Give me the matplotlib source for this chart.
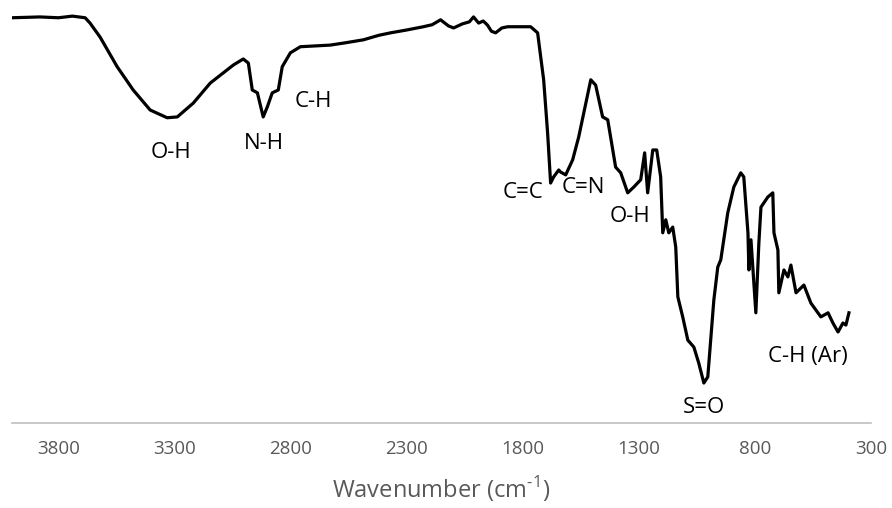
import numpy as np
from matplotlib import pyplot as plt

plt.rcParams['mathtext.fontset'] = 'custom'
plt.rcParams['mathtext.rm'] = 'Open Sans'

# IR spectrum (wavenumber in cm-1, transmittance in a.u.)
wavenumber = [4000, 3880, 3800, 3740, 3685, 3664, 3621, 3547, 3478, 3405,
              3332, 3288, 3219, 3146, 3047, 3004, 2982, 2965, 2943, 2918,
              2900, 2879, 2853, 2836, 2801, 2758, 2629, 2560, 2486, 2420,
              2370, 2300, 2228, 2190, 2154, 2120, 2098, 2060, 2030, 2012,
              1990, 1970, 1952, 1935, 1917, 1890, 1865, 1800, 1766, 1736,
              1710, 1693, 1680, 1667, 1645, 1637, 1615, 1585, 1559, 1507,
              1486, 1456, 1434, 1400, 1378, 1348, 1322, 1292, 1275, 1262,
              1240, 1223, 1206, 1197, 1184, 1171, 1154, 1141, 1132, 1111,
              1089, 1063, 1042, 1020, 1003, 977, 960, 947, 917, 891,
              861, 848, 830, 826, 817, 796, 783, 774, 744, 723,
              718, 701, 697, 675, 658, 645, 623, 589, 559, 516,
              485, 464, 442, 421, 408, 395]
transmittance = [99.3, 99.5, 99.3, 99.7, 99.3, 98.0, 94.6, 87.3, 81.6, 76.7,
                 74.8, 75.0, 78.4, 83.3, 87.7, 89.2, 88.2, 81.6, 80.9, 75.0,
                 77.5, 80.9, 81.6, 87.3, 90.7, 92.2, 92.6, 93.2, 93.9, 95.0,
                 95.6, 96.3, 97.1, 97.6, 98.8, 97.3, 96.8, 97.8, 98.3, 99.5,
                 98.0, 98.5, 97.5, 96.0, 95.6, 96.8, 97.1, 97.1, 97.1, 95.6,
                 84.1, 71.1, 58.8, 60.3, 62.0, 61.5, 60.8, 64.5, 70.1, 84.1,
                 82.8, 75.0, 74.3, 62.7, 61.3, 56.4, 57.8, 59.6, 66.2, 56.4,
                 66.9, 66.9, 60.3, 46.6, 49.8, 46.6, 48.0, 43.1, 30.9, 26.0,
                 20.3, 18.6, 14.7, 9.8, 11.3, 30.1, 38.2, 40.0, 51.5, 57.8,
                 61.3, 60.3, 46.6, 37.5, 44.9, 27.0, 44.1, 52.9, 55.4, 56.4,
                 46.6, 42.4, 31.9, 37.5, 35.8, 38.7, 31.9, 33.8, 29.4, 26.0,
                 27.0, 24.5, 22.3, 24.5, 24.0, 27.0]

# Peak assignments: label, wavenumber, transmittance of the text centre
peak_labels = ['O-H', 'N-H', 'C-H', 'C=C', 'C=N', 'O-H', 'S=O', 'C-H (Ar)']
peak_x = [3314, 2913, 2702, 1801, 1538, 1339, 1020, 572]
peak_y = [66.2, 68.6, 78.7, 56.6, 57.6, 50.7, 3.7, 16.2]

tick_values = [3800, 3300, 2800, 2300, 1800, 1300, 800, 300]

fig = plt.figure(figsize=(8.92, 5.08), dpi=100)
ax = fig.add_axes([12 / 892, 85 / 508, 859 / 892, 413 / 508])

ax.plot(wavenumber, transmittance, color='black', linewidth=2.3,
        solid_joinstyle='round')

for label, x, y in zip(peak_labels, peak_x, peak_y):
    ax.text(x, y, label, ha='center', va='center', fontsize=16,
            family='Open Sans', color='black')

ax.set_xlim(4000, 300)
ax.set_ylim(0, 101.2)
ax.set_xticks(tick_values)
ax.set_xticklabels([str(v) for v in tick_values], family='Open Sans',
                   fontsize=13.5, color='#595959')
ax.tick_params(axis='x', length=0, pad=12)
ax.set_yticks([])

for side in ['left', 'top', 'right']:
    ax.spines[side].set_visible(False)
ax.spines['bottom'].set_color('#bfbfbf')
ax.spines['bottom'].set_linewidth(1.2)

# \text keeps the hyphen as a plain hyphen rather than a minus sign
ax.set_xlabel(r'Wavenumber (cm$^{\text{-1}}$)', family='Open Sans',
              fontsize=17, color='#595959', labelpad=12)

fig.savefig('out.png', dpi=100)
